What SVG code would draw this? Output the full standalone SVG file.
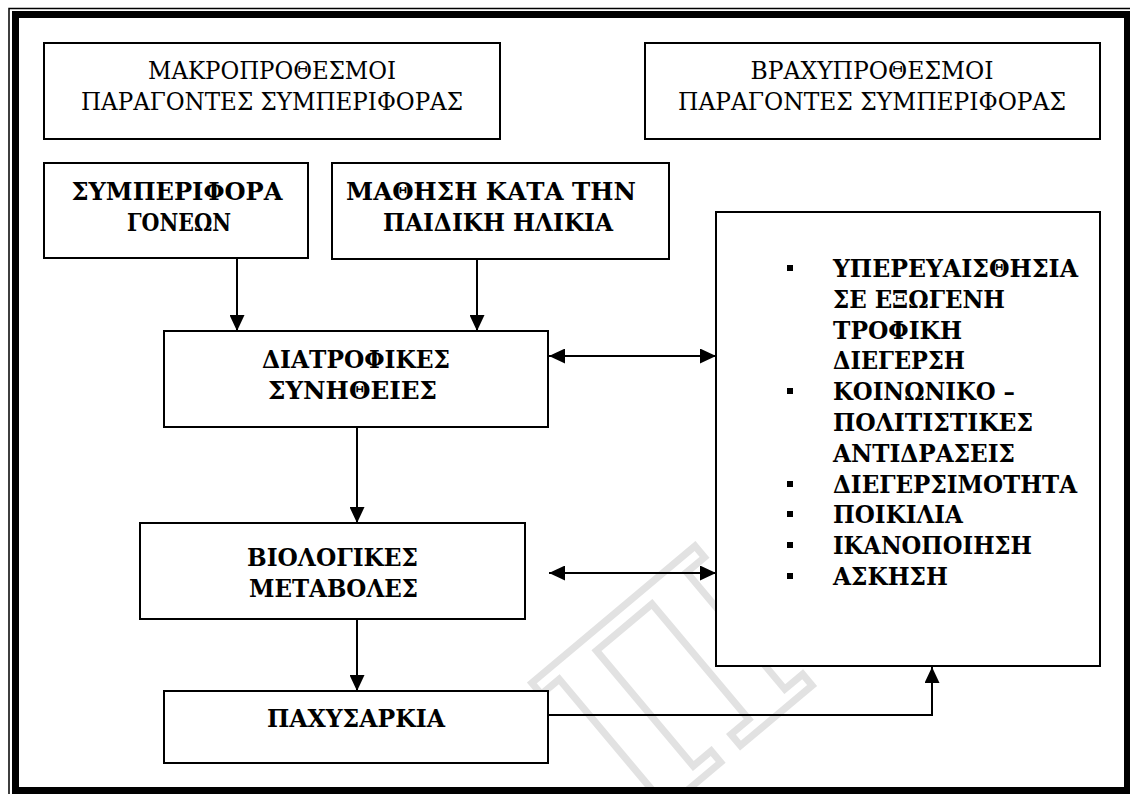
<svg xmlns="http://www.w3.org/2000/svg" width="1130" height="794" viewBox="0 0 1130 794">
<defs>
<style>
.box{fill:#fff;stroke:#000;stroke-width:2}
.t{font-family:"DejaVu Serif","Liberation Serif","Times New Roman",serif;font-size:24px;fill:#000}
.c{text-anchor:middle}
.b{font-weight:bold}
.ln{fill:none;stroke:#000;stroke-width:2}
.wm{font-family:"DejaVu Serif",serif;font-weight:bold;font-size:250px;fill:none;stroke:#e2e2e2;stroke-width:7}
</style>
<marker id="ah" viewBox="0 0 16 15" refX="16" refY="7.5" markerWidth="16" markerHeight="15" markerUnits="userSpaceOnUse" orient="auto-start-reverse">
<path d="M0,0 L16,7.5 L0,15 z" fill="#000"/>
</marker>
<clipPath id="pg"><rect x="19" y="18" width="1105" height="769"/></clipPath>
</defs>
<rect width="1130" height="794" fill="#fff"/>
<!-- page frame -->
<rect x="9" y="8.5" width="1140" height="800" fill="none" stroke="#000" stroke-width="1.5"/>
<rect x="15.5" y="14.5" width="1112" height="776" fill="none" stroke="#000" stroke-width="7"/>
<!-- watermark (faint, behind boxes) -->
<g clip-path="url(#pg)">
<text class="wm" transform="translate(640,830) rotate(-40)">Π</text>
</g>

<g id="n-makro">
<rect class="box" x="44" y="43" width="456" height="96"/>
<text class="t c" x="272" y="79" textLength="248" lengthAdjust="spacingAndGlyphs">ΜΑΚΡΟΠΡΟΘΕΣΜΟΙ</text>
<text class="t c" x="272" y="110" textLength="382" lengthAdjust="spacingAndGlyphs">ΠΑΡΑΓΟΝΤΕΣ ΣΥΜΠΕΡΙΦΟΡΑΣ</text>
</g>
<g id="n-vrachy">
<rect class="box" x="645" y="43" width="455" height="96"/>
<text class="t c" x="872" y="79" textLength="243" lengthAdjust="spacingAndGlyphs">ΒΡΑΧΥΠΡΟΘΕΣΜΟΙ</text>
<text class="t c" x="872" y="110" textLength="388" lengthAdjust="spacingAndGlyphs">ΠΑΡΑΓΟΝΤΕΣ ΣΥΜΠΕΡΙΦΟΡΑΣ</text>
</g>
<g id="n-goneis">
<rect class="box" x="44" y="163" width="264" height="95"/>
<text class="t c b" x="177" y="200" textLength="211" lengthAdjust="spacingAndGlyphs">ΣΥΜΠΕΡΙΦΟΡΑ</text>
<text class="t c b" x="179" y="231" textLength="104" lengthAdjust="spacingAndGlyphs">ΓΟΝΕΩΝ</text>
</g>
<g id="n-mathisi">
<rect class="box" x="332" y="163" width="337" height="96"/>
<text class="t c b" x="491" y="200" textLength="290" lengthAdjust="spacingAndGlyphs">ΜΑΘΗΣΗ ΚΑΤΑ ΤΗΝ</text>
<text class="t c b" x="498" y="231" textLength="230" lengthAdjust="spacingAndGlyphs">ΠΑΙΔΙΚΗ ΗΛΙΚΙΑ</text>
</g>
<g id="n-diatrofikes">
<rect class="box" x="164" y="331" width="384" height="96"/>
<text class="t c b" x="356" y="368" textLength="188" lengthAdjust="spacingAndGlyphs">ΔΙΑΤΡΟΦΙΚΕΣ</text>
<text class="t c b" x="352.5" y="399" textLength="169" lengthAdjust="spacingAndGlyphs">ΣΥΝΗΘΕΙΕΣ</text>
</g>
<g id="n-viologikes">
<rect class="box" x="140" y="523" width="385" height="96"/>
<text class="t c b" x="332.5" y="566" textLength="171" lengthAdjust="spacingAndGlyphs">ΒΙΟΛΟΓΙΚΕΣ</text>
<text class="t c b" x="333.5" y="597" textLength="169" lengthAdjust="spacingAndGlyphs">ΜΕΤΑΒΟΛΕΣ</text>
</g>
<g id="n-pachysarkia">
<rect class="box" x="164" y="691" width="384" height="72"/>
<text class="t c b" x="356" y="727" textLength="178" lengthAdjust="spacingAndGlyphs">ΠΑΧΥΣΑΡΚΙΑ</text>
</g>
<g id="n-list">
<rect class="box" x="716" y="212" width="384" height="454"/>
<g fill="#000">
<rect x="787" y="265" width="6" height="6"/>
<rect x="787" y="388" width="6" height="6"/>
<rect x="787" y="481" width="6" height="6"/>
<rect x="787" y="511" width="6" height="6"/>
<rect x="787" y="542" width="6" height="6"/>
<rect x="787" y="573" width="6" height="6"/>
</g>
<text class="t b" x="833" y="277" textLength="245" lengthAdjust="spacingAndGlyphs">ΥΠΕΡΕΥΑΙΣΘΗΣΙΑ</text>
<text class="t b" x="833" y="308" textLength="172" lengthAdjust="spacingAndGlyphs">ΣΕ ΕΞΩΓΕΝΗ</text>
<text class="t b" x="833" y="339" textLength="129" lengthAdjust="spacingAndGlyphs">ΤΡΟΦΙΚΗ</text>
<text class="t b" x="833" y="369" textLength="132" lengthAdjust="spacingAndGlyphs">ΔΙΕΓΕΡΣΗ</text>
<text class="t b" x="833" y="400" textLength="182" lengthAdjust="spacingAndGlyphs">ΚΟΙΝΩΝΙΚΟ –</text>
<text class="t b" x="833" y="431" textLength="200" lengthAdjust="spacingAndGlyphs">ΠΟΛΙΤΙΣΤΙΚΕΣ</text>
<text class="t b" x="833" y="462" textLength="182" lengthAdjust="spacingAndGlyphs">ΑΝΤΙΔΡΑΣΕΙΣ</text>
<text class="t b" x="833" y="493" textLength="244" lengthAdjust="spacingAndGlyphs">ΔΙΕΓΕΡΣΙΜΟΤΗΤΑ</text>
<text class="t b" x="833" y="523" textLength="130" lengthAdjust="spacingAndGlyphs">ΠΟΙΚΙΛΙΑ</text>
<text class="t b" x="833" y="554" textLength="199" lengthAdjust="spacingAndGlyphs">ΙΚΑΝΟΠΟΙΗΣΗ</text>
<text class="t b" x="833" y="585" textLength="115" lengthAdjust="spacingAndGlyphs">ΑΣΚΗΣΗ</text>
</g>
<g id="connectors">
<line class="ln" x1="237" y1="258" x2="237" y2="331" marker-end="url(#ah)"/>
<line class="ln" x1="477" y1="259" x2="477" y2="331" marker-end="url(#ah)"/>
<line class="ln" x1="357" y1="427" x2="357" y2="523" marker-end="url(#ah)"/>
<line class="ln" x1="357" y1="619" x2="357" y2="691" marker-end="url(#ah)"/>
<line class="ln" x1="549" y1="356" x2="716" y2="356" marker-start="url(#ah)" marker-end="url(#ah)"/>
<line class="ln" x1="549" y1="573" x2="716" y2="573" marker-start="url(#ah)" marker-end="url(#ah)"/>
<polyline class="ln" points="548,715 932,715 932,667" marker-end="url(#ah)"/>
</g>
</svg>
